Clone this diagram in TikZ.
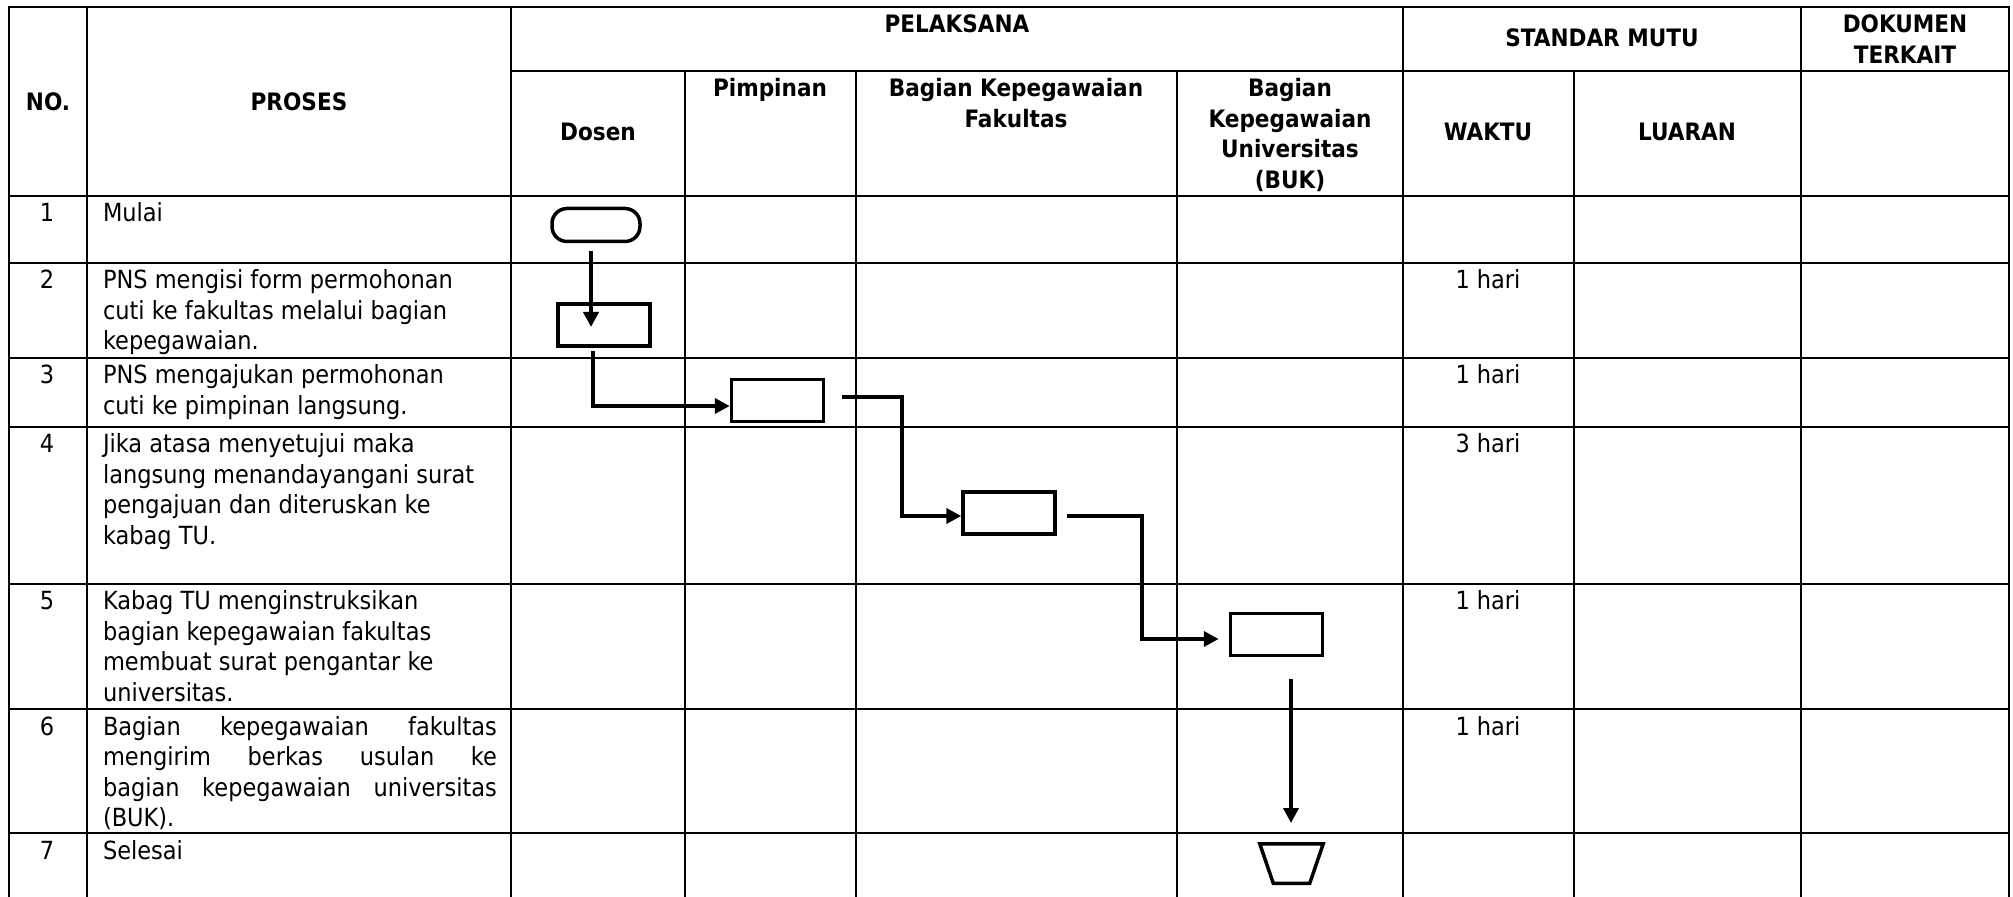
\documentclass[tikz,border=0pt]{standalone}
\usepackage{fontspec}
\setmainfont{DejaVu Sans Condensed}
\usetikzlibrary{arrows.meta}

\tikzset{every picture/.style={line width=1pt}}
\tikzset{
  grid line/.style={line width=1pt, line cap=rect},
  cell/.style={inner sep=0pt, font=\fontsize{12.5}{15.25}\selectfont},
  cell left/.style={cell, anchor=base west},
  cell mid/.style={cell, anchor=base},
  head/.style={cell, anchor=base, font=\fontsize{12}{15.25}\selectfont\bfseries},
  termbox/.style={draw, line width=1.75pt, rounded corners=7.5pt, minimum width=44pt, minimum height=16.5pt, inner sep=0pt},
  procbox/.style={draw, line width=1.75pt, minimum width=46pt, minimum height=21pt, inner sep=0pt},
  endshape/.style={draw, line width=1.75pt, line join=miter},
  flow/.style={line width=2pt, -{Triangle[length=7.5pt,width=7.5pt]}}
}

\begin{document}
\begin{tikzpicture}[x=0.5pt,y=0.5pt,yscale=-1,xscale=1]
\useasboundingbox (0,0) rectangle (2013,897);

%Table lines
\draw [grid line] (9,7) -- (2009,7);
\draw [grid line] (511,71) -- (2009,71);
\foreach \y in {196,263,358,427,584,709,833}
  \draw [grid line] (9,\y) -- (2009,\y);
\foreach \x in {9,87,511,1403,1801,2009}
  \draw [grid line] (\x,7) -- (\x,897);
\foreach \x in {685,856,1177,1574}
  \draw [grid line] (\x,71) -- (\x,897);

% Header Nodes
\node [head] (hno) at (48,111) {NO.};
\node [head] (hproses) at (299,111) {PROSES};
\node [head] (hpelaksana) at (957,33) {PELAKSANA};
\node [head] (hstandar) at (1602,47) {STANDAR MUTU};
\node [head] (hdokumen) at (1905,33) {\parbox[t]{100pt}{\centering DOKUMEN\\TERKAIT}};
\node [head] (hdosen) at (598,141) {Dosen};
\node [head] (hpimpinan) at (770,97) {Pimpinan};
\node [head] (hbkf) at (1016,97) {\parbox[t]{150pt}{\centering Bagian Kepegawaian\\Fakultas}};
\node [head] (hbku) at (1290,97) {\parbox[t]{110pt}{\centering Bagian\\Kepegawaian\\Universitas\\(BUK)}};
\node [head] (hwaktu) at (1488,141) {WAKTU};
\node [head] (hluaran) at (1687,141) {LUARAN};

% Text Node
\node [cell mid] (n1) at (47,222) {1};
\node [cell mid] (n2) at (47,289) {2};
\node [cell mid] (n3) at (47,384) {3};
\node [cell mid] (n4) at (47,453) {4};
\node [cell mid] (n5) at (47,610) {5};
\node [cell mid] (n6) at (47,735) {6};
\node [cell mid] (n7) at (47,859) {7};

% Text Node
\node [cell left] (p1) at (102,222) {Mulai};
\node [cell left] (p2) at (102,289) {\parbox[t]{215pt}{PNS mengisi form permohonan\\cuti ke fakultas melalui bagian\\kepegawaian.}};
\node [cell left] (p3) at (102,384) {\parbox[t]{215pt}{PNS mengajukan permohonan\\cuti ke pimpinan langsung.}};
\node [cell left] (p4) at (102,453) {\parbox[t]{215pt}{Jika atasa menyetujui maka\\langsung menandayangani surat\\pengajuan dan diteruskan ke\\kabag TU.}};
\node [cell left] (p5) at (102,610) {\parbox[t]{215pt}{Kabag TU menginstruksikan\\bagian kepegawaian fakultas\\membuat surat pengantar ke\\universitas.}};
\node [cell left] (p6) at (102,735) {\parbox[t]{197pt}{\makebox[197pt][s]{Bagian kepegawaian fakultas}\\\makebox[197pt][s]{mengirim berkas usulan ke}\\\makebox[197pt][s]{bagian kepegawaian universitas}\\(BUK).}};
\node [cell left] (p7) at (102,859) {Selesai};

% Text Node
\node [cell mid] (w2) at (1488,289) {1 hari};
\node [cell mid] (w3) at (1488,384) {1 hari};
\node [cell mid] (w4) at (1488,453) {3 hari};
\node [cell mid] (w5) at (1488,610) {1 hari};
\node [cell mid] (w6) at (1488,735) {1 hari};

%Flow shapes
\node [termbox] (mulai) at (596,225) {};
\node [procbox] (isi) at (604,325) {};
\node [procbox] (aju) at (777.5,400.5) {};
\node [procbox] (ttd) at (1009,513) {};
\node [procbox] (kirim) at (1276.5,634.5) {};
\coordinate (selesai) at (1291.5,863.5);
\draw [endshape] ([shift={(-31.75,-19.75)}]selesai) -- ([shift={(31.75,-19.75)}]selesai) -- ([shift={(18.25,19.75)}]selesai) -- ([shift={(-18.25,19.75)}]selesai) -- cycle;

%Connectors
\draw [flow] ([shift={(-5,8)}]mulai.south) -- ([shift={(-13,2)}]isi.center);
\draw [flow] ([shift={(-11,3)}]isi.south) |- ([shift={(0,5.5)}]aju.west);
\draw [flow] ([shift={(17,-3.5)}]aju.east) -- ++(60,0) |- ([shift={(0,3)}]ttd.west);
\draw [flow] ([shift={(10,3)}]ttd.east) -- ++(75,0) |- ([shift={(-10,4.5)}]kirim.west);
\draw [flow] ([shift={(14.5,22)}]kirim.south) -- ([shift={(-0.5,-40.5)}]selesai);

\end{tikzpicture}
\end{document}
